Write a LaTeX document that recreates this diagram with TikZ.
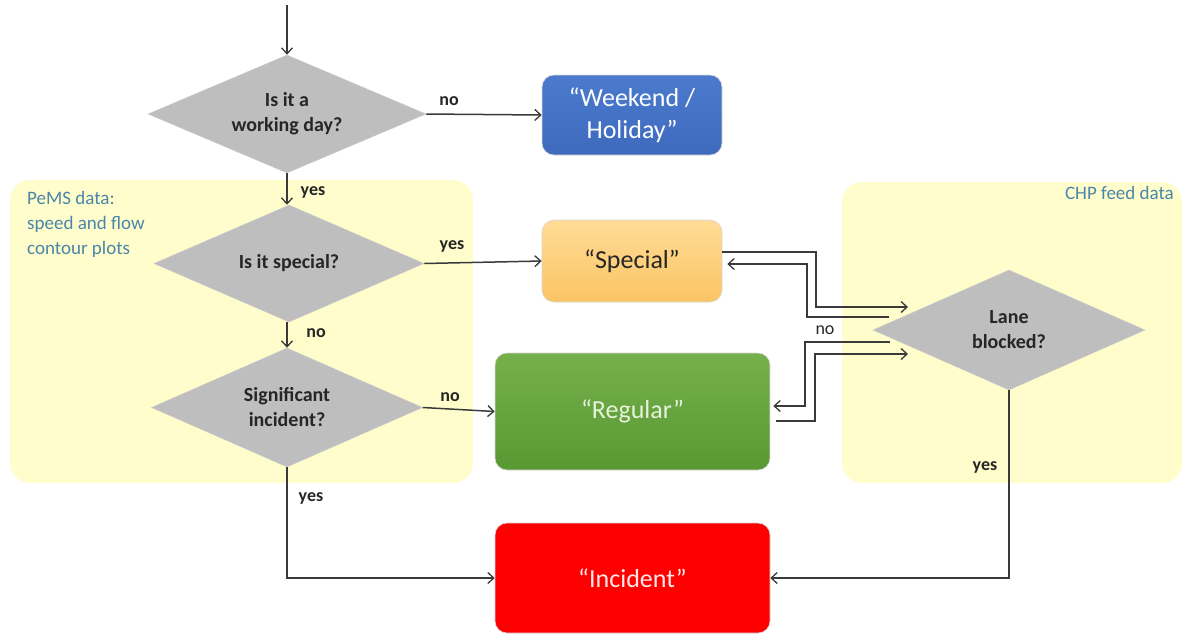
\documentclass[tikz,border=0pt]{standalone}
\usepackage{fontspec}
\setmainfont{Carlito}
\usetikzlibrary{shapes.geometric,arrows.meta,calc}
\definecolor{lnc}{HTML}{3A3A3A}
\definecolor{yel}{HTML}{FFFDCC}
\definecolor{dgray}{HTML}{BEBEBE}
\definecolor{txtc}{HTML}{262626}
\definecolor{teal}{HTML}{4A86A8}
\tikzset{
  dia/.style={diamond, aspect=2.3, inner sep=0pt, fill=dgray, draw=dgray!80!white, line width=0.5pt,
    font=\bfseries\fontsize{20}{25}\selectfont, text=txtc, align=center},
  outbox/.style={rounded corners=12pt, inner sep=0pt, align=center,
    font=\fontsize{26}{32}\selectfont, draw=white!85!black, line width=0.6pt},
  region/.style={fill=yel, rounded corners=20pt},
  conn/.style={draw=lnc, line width=1.5pt, -{Straight Barb[length=6pt,width=11pt,line width=1.3pt]}},
  lbl/.style={font=\bfseries\fontsize{18}{22}\selectfont, text=txtc, inner sep=0pt},
  regtxt/.style={font=\fontsize{19}{25}\selectfont, text=teal, align=left, inner sep=0pt}
}
\begin{document}
\begin{tikzpicture}[x=1pt,y=-1pt]
\useasboundingbox (0,0) rectangle (1183,638);
% regions
\path[region] (10,180) rectangle (473,483);
\path[region] (842,182) rectangle (1182,483);
\node[regtxt, anchor=north west] (pemslbl) at (27,191) {PeMS data:\\speed and flow\\contour plots};
\node[regtxt, anchor=north east] (chplbl) at (1174,186) {CHP feed data};
% diamonds
\node[dia, minimum width=278pt, minimum height=118pt] (d1) at (287,114) {Is it a\\working day?};
\node[dia, minimum width=270pt, minimum height=117pt] (d2) at (289,263.5) {Is it special?};
\node[dia, minimum width=271pt, minimum height=119pt] (d3) at (287,407.5) {Significant\\incident?};
\node[dia, minimum width=272pt, minimum height=120pt] (d4) at (1009,330) {Lane\\blocked?};
% output boxes
\node[outbox, minimum width=180pt, minimum height=80pt, top color={rgb,255:red,75;green,122;blue,204}, bottom color={rgb,255:red,62;green,106;blue,190}, text=white] (wk) at (632,115) {“Weekend /\\Holiday”};
\node[outbox, minimum width=180pt, minimum height=82pt, top color={rgb,255:red,255;green,220;blue,150}, bottom color={rgb,255:red,250;green,196;blue,100}, text=txtc] (sp) at (632,261) {“Special”};
\node[outbox, minimum width=275pt, minimum height=117pt, top color={rgb,255:red,118;green,176;blue,76}, bottom color={rgb,255:red,88;green,152;blue,50}, text={rgb,255:red,230;green,242;blue,220}] (rg) at (632.5,411.5) {“Regular”};
\node[outbox, minimum width=275pt, minimum height=110pt, fill={rgb,255:red,255;green,0;blue,0}, text={rgb,255:red,255;green,232;blue,232}] (inc) at (632.5,578) {“Incident”};
% connectors
\coordinate (start) at (287,5);
\draw[conn] (start) -- (d1.north);
\draw[conn] (d1.east) -- (wk.west);
\node[lbl] (lno1) at (449,101) {no};
\draw[conn] (d1.south) -- (d2.north -| d1.south);
\node[lbl] (lyes1) at (313,192) {yes};
\draw[conn] (d2.east) -- (sp.west);
\node[lbl] (lyes2) at (452,246) {yes};
\draw[conn] (d2.south -| d3.north) -- (d3.north);
\node[lbl] (lno2) at (316,333) {no};
\draw[conn] (d3.east) -- (rg.west);
\node[lbl] (lno3) at (450,397) {no};
\draw[conn] (d3.south) |- (inc.west);
\node[lbl] (lyes3) at (311,498) {yes};
\draw[conn] (d4.south) |- (inc.east);
\node[lbl] (lyes4) at (985,467) {yes};
% special <-> lane blocked
\coordinate (sp1) at ($(sp.east)+(0,-9)$);
\coordinate (la1) at (908,307);
\draw[conn] (sp1) -| (816,307) -- (la1);
\coordinate (la2) at (889,317);
\coordinate (sp2) at ($(sp.east)+(5,3)$);
\draw[conn] (la2) -| (807,264) -- (sp2);
% regular <-> lane blocked
\coordinate (la3) at (890,342);
\coordinate (rg1) at ($(rg.east)+(3,-5.5)$);
\draw[conn] (la3) -| (805,406) -- (rg1);
\coordinate (rg2) at ($(rg.east)+(6,9.5)$);
\coordinate (la4) at (908,354);
\draw[conn] (rg2) -| (815,354) -- (la4);
\node[lbl, font=\fontsize{18}{22}\selectfont] (lno4) at (825,330) {no};
\end{tikzpicture}
\end{document}
